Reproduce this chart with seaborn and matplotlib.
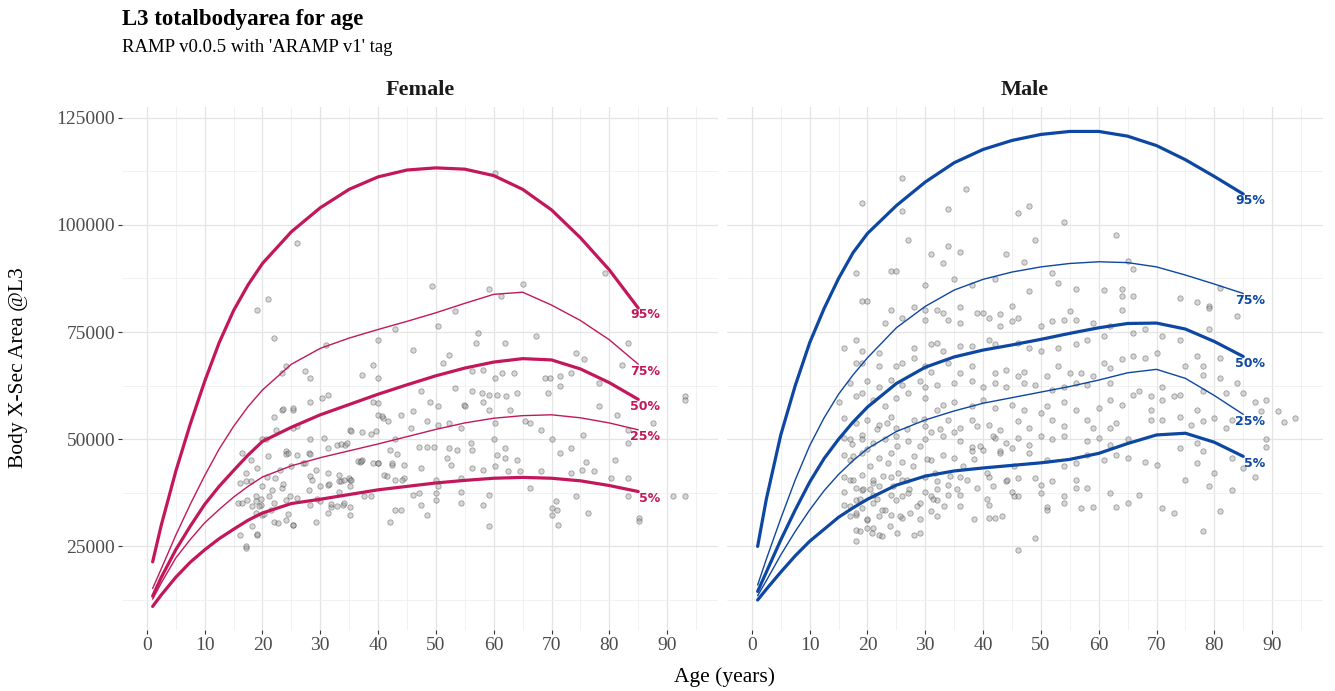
import numpy as np
import pandas as pd
import matplotlib
matplotlib.use("Agg")
import matplotlib.pyplot as plt
import seaborn as sns
from matplotlib.ticker import MultipleLocator, FuncFormatter

sns.set_theme(style="white")
plt.rcParams['font.family'] = ['Liberation Serif', 'DejaVu Serif']

# ---------------- data ----------------
CURVE_AGES = [1, 2.5, 5, 7.5, 10, 12.5, 15, 17.5, 20, 25, 30, 35, 40, 45, 50, 55, 60, 65, 70, 75, 80, 85]
PCT_LABELS = ['5%', '25%', '50%', '75%', '95%']

F_P05 = [11000, 13700, 17800, 21300, 24200, 26800, 29000, 31100, 32800, 35000, 36000, 37100, 38200, 39000, 39800, 40400, 40900, 41100, 40900, 40300, 39200, 37800]
F_P25 = [12700, 16500, 22300, 26600, 30500, 33600, 36500, 39000, 41200, 43800, 45700, 47300, 48900, 50600, 52300, 53800, 54900, 55500, 55700, 55000, 53800, 52200]
F_P50 = [13400, 17800, 24200, 29700, 34800, 39000, 42700, 46300, 49500, 52800, 55700, 58100, 60500, 62700, 64800, 66600, 68000, 68800, 68500, 66400, 63200, 59300]
F_P75 = [15200, 19800, 27600, 34800, 41500, 47700, 53000, 57600, 61500, 67500, 71200, 73600, 75600, 77500, 79500, 81700, 83800, 84300, 81300, 77700, 73200, 67500]
F_P95 = [21400, 30000, 42500, 53500, 63500, 72500, 80000, 86000, 91000, 98400, 104000, 108300, 111200, 112800, 113300, 113000, 111500, 108300, 103500, 97000, 89500, 80600]

M_P05 = [12500, 15000, 19000, 22800, 26200, 29000, 31800, 34000, 36000, 39300, 41400, 42600, 43300, 43900, 44500, 45300, 46700, 49000, 51000, 51400, 49300, 46000]
M_P25 = [13500, 17000, 23000, 28500, 33500, 38000, 41800, 45000, 47800, 51800, 54500, 56600, 58400, 59700, 61000, 62300, 63800, 65500, 66300, 64200, 60200, 55800]
M_P50 = [14500, 19000, 26500, 33500, 40000, 45500, 50000, 54000, 57500, 63000, 66800, 69200, 70800, 72000, 73300, 74700, 76000, 77000, 77100, 75700, 72800, 69300]
M_P75 = [16000, 22000, 31500, 40500, 48500, 55000, 60500, 65000, 69000, 76000, 81000, 84800, 87300, 89000, 90200, 91000, 91400, 91200, 90200, 88300, 86200, 84000]
M_P95 = [25000, 36000, 51000, 62500, 72500, 80500, 87500, 93500, 98000, 104500, 110000, 114500, 117600, 119700, 121100, 121800, 121800, 120700, 118500, 115200, 111300, 107200]

# individual observations: (age in years, area in thousands)
F_POINTS = [
    (26.0, 95.8), (60.2, 112.2), (79.3, 88.8), (19.0, 80.2), (21.0, 82.6), (49.3, 85.7), (59.2, 85.1), (61.2, 83.4), (65.1, 86.1), (53.3, 79.9),
    (22.0, 73.6), (43.0, 75.6), (50.3, 76.4), (31.0, 72.0), (40.0, 73.2), (57.2, 74.8), (57.0, 72.5), (62.0, 72.5), (67.4, 74.0), (46.0, 70.9),
    (52.3, 69.7), (51.3, 67.8), (74.3, 70.0), (75.6, 68.6), (83.2, 72.5), (82.2, 67.4), (24.0, 67.0), (23.3, 65.5), (27.3, 65.9), (28.3, 64.3),
    (37.2, 65.1), (39.1, 67.4), (40.0, 64.3), (56.2, 65.9), (58.2, 66.2), (60.2, 64.3), (61.5, 65.5), (63.5, 65.5), (68.8, 64.3), (69.7, 64.3),
    (71.4, 64.7), (73.4, 65.5), (78.3, 63.1), (71.4, 62.5), (47.4, 61.2), (53.3, 62.0), (56.2, 61.2), (58.0, 60.8), (59.2, 60.4), (60.5, 60.4),
    (62.2, 60.0), (64.1, 60.8), (69.4, 60.8), (28.3, 58.8), (30.3, 59.6), (31.3, 60.4), (39.1, 58.8), (40.0, 58.5), (49.0, 58.8), (50.3, 57.7),
    (54.9, 58.1), (58.2, 58.8), (22.0, 55.3), (23.3, 56.9), (25.3, 56.9), (40.0, 55.7), (44.0, 55.7), (46.0, 56.5), (55.0, 57.7), (59.2, 56.9),
    (62.8, 56.9), (78.3, 57.7), (81.3, 55.7), (22.4, 52.2), (25.3, 52.6), (35.2, 52.2), (37.2, 51.8), (40.8, 55.0), (45.7, 52.6), (48.4, 54.2),
    (50.3, 53.4), (52.3, 53.8), (54.3, 52.6), (60.2, 53.8), (65.5, 54.2), (66.2, 53.8), (68.1, 52.2), (75.4, 51.0), (83.2, 52.2), (87.5, 53.8),
    (93.1, 60.0), (93.1, 59.2), (20.0, 50.0), (28.3, 50.0), (31.3, 48.0), (32.9, 48.7), (34.2, 48.7), (43.0, 50.0), (47.0, 48.3), (48.4, 48.3),
    (49.7, 48.3), (52.3, 48.0), (53.6, 47.6), (56.2, 47.6), (56.0, 49.1), (60.0, 50.0), (62.0, 48.0), (60.5, 46.4), (62.0, 45.6), (64.0, 45.2),
    (70.0, 50.0), (73.4, 48.0), (71.4, 46.8), (83.2, 49.1), (16.4, 46.8), (18.1, 45.2), (21.0, 46.0), (24.0, 47.2), (26.0, 46.4), (28.0, 46.8),
    (37.2, 45.2), (39.1, 44.4), (40.0, 44.4), (42.1, 47.6), (42.4, 44.1), (44.4, 44.1), (47.4, 43.3), (52.0, 45.6), (52.6, 44.1), (56.2, 43.3),
    (58.2, 42.9), (60.2, 43.7), (62.5, 42.5), (64.5, 42.5), (68.1, 42.5), (73.4, 42.1), (75.3, 42.9), (76.0, 44.8), (77.3, 42.5), (80.3, 41.0),
    (81.0, 45.2), (83.2, 41.0), (17.1, 42.1), (19.1, 43.3), (20.7, 41.3), (23.0, 42.9), (25.0, 43.7), (27.0, 44.4), (29.3, 42.9), (31.3, 42.1),
    (33.2, 41.7), (35.2, 40.6), (33.2, 40.2), (34.9, 41.0), (36.8, 44.8), (41.1, 41.7), (43.0, 40.6), (44.4, 41.0), (50.0, 40.6), (50.3, 39.0),
    (54.3, 41.0), (16.1, 39.8), (18.1, 40.2), (20.0, 39.0), (21.7, 38.2), (23.3, 38.6), (28.0, 38.2), (30.0, 39.0), (31.3, 39.4), (33.2, 37.8),
    (35.2, 39.0), (46.0, 37.1), (47.0, 37.5), (50.0, 37.5), (54.3, 37.8), (59.2, 37.1), (66.2, 38.6), (74.3, 36.7), (70.7, 35.5), (83.2, 36.7),
    (91.1, 36.7), (93.1, 36.7), (15.8, 35.1), (17.4, 35.9), (18.8, 36.7), (19.7, 34.7), (22.0, 35.1), (24.0, 35.9), (26.0, 36.3), (28.3, 34.7),
    (30.0, 35.5), (31.9, 34.3), (33.9, 34.7), (35.2, 34.3), (43.0, 33.6), (44.0, 33.6), (47.4, 34.7), (50.0, 35.9), (54.3, 35.1), (58.2, 34.7),
    (70.0, 33.9), (71.0, 33.6), (76.3, 32.8), (85.2, 31.6), (85.2, 30.9), (18.8, 32.8), (20.0, 32.4), (22.0, 30.8), (24.0, 31.2), (25.3, 30.0),
    (29.3, 30.8), (31.3, 32.8), (35.2, 32.4), (42.1, 30.8), (48.4, 32.4), (70.0, 32.4), (71.1, 30.0), (59.2, 29.7), (16.1, 27.7), (19.1, 27.7),
    (17.1, 24.6),
    # denser young-adult cluster
    (17.1, 40.3), (18.8, 35.6), (19.7, 36.0), (18.2, 34.4), (19.4, 34.4), (16.5, 35.2), (21.2, 36.7), (21.5, 33.6), (22.1, 41.0), (23.5, 39.5),
    (24.7, 36.7), (24.4, 32.5), (25.3, 30.1), (22.6, 30.5), (20.3, 32.5), (18.2, 29.7), (19.1, 27.8), (17.1, 25.0), (24.1, 46.5), (24.4, 46.9),
    (28.2, 46.5), (28.2, 41.4), (28.5, 40.6), (27.4, 44.5), (29.4, 36.0), (31.5, 39.5), (31.8, 34.8), (33.5, 40.3), (34.1, 40.6), (35.3, 40.6),
    (34.1, 35.2), (32.9, 34.4), (36.5, 44.9), (37.1, 44.9), (40.0, 44.5), (41.5, 41.4), (42.4, 44.5), (43.2, 46.5), (44.1, 40.6), (37.6, 36.7),
    (38.8, 36.7), (20.6, 50.0), (23.5, 57.0), (25.3, 57.4), (25.9, 53.1), (30.6, 50.4), (33.5, 48.8), (34.7, 49.2), (35.3, 52.0), (38.8, 51.2),
    (39.7, 52.0), (40.6, 55.5), (41.8, 54.3),
]

M_POINTS = [
    (26, 111.0), (19, 105.0), (26, 103.2), (34, 103.8), (37, 108.4), (46, 102.7), (48, 104.5), (54, 100.6), (63, 97.6), (27, 96.4),
    (34, 95.0), (49, 96.4), (36, 93.7), (31, 93.1), (44, 93.1), (33, 91.0), (47, 91.4), (65, 91.5), (66, 89.6), (18, 88.8),
    (24, 89.2), (25, 89.2), (35, 87.3), (30, 86.0), (38, 86.0), (42, 87.3), (52, 88.8), (53, 86.5), (48, 84.5), (56, 85.1),
    (61, 84.7), (64, 85.0), (64, 83.4), (66, 83.4), (74, 83.0), (77, 82.0), (79, 81.0), (81, 85.3), (19, 82.2), (20, 82.2),
    (24, 80.1), (26, 78.3), (28, 80.9), (30, 80.1), (32, 80.1), (33, 79.5), (36, 80.9), (39, 79.5), (40, 79.5), (43, 79.1),
    (45, 81.0), (46, 78.3), (55, 80.0), (64, 80.2), (79, 80.6), (84, 78.7), (23, 77.0), (30, 77.8), (34, 77.9), (36, 77.0),
    (41, 78.3), (43, 76.4), (45, 77.5), (50, 76.4), (52, 77.5), (54, 77.9), (56, 77.9), (59, 77.1), (62, 76.4), (68, 75.6),
    (79, 75.6), (16, 71.3), (18, 73.2), (19, 70.5), (22, 70.1), (28, 71.3), (31, 72.1), (32, 72.5), (33, 70.5), (36, 71.7),
    (38, 71.7), (41, 73.2), (42, 72.1), (46, 72.5), (48, 71.3), (50, 70.5), (53, 71.3), (56, 72.1), (58, 73.2), (61, 74.0),
    (66, 74.8), (71, 74.0), (74, 73.2), (77, 69.4), (78, 67.0), (81, 69.0), (18, 67.8), (19, 67.8), (22, 67.0), (25, 67.0),
    (26, 67.8), (28, 69.0), (30, 67.0), (31, 65.8), (34, 67.8), (36, 65.5), (38, 67.0), (42, 65.5), (44, 66.2), (46, 64.7),
    (47, 65.8), (51, 64.7), (53, 67.0), (55, 65.5), (57, 65.5), (59, 64.7), (61, 67.8), (62, 66.6), (64, 68.6), (66, 69.4),
    (68, 69.0), (70, 70.1), (75, 67.0), (78, 65.0), (81, 64.3), (84, 63.1), (17, 63.1), (20, 63.5), (22, 62.3), (24, 63.9),
    (26, 62.7), (29, 63.5), (30, 62.3), (32, 62.7), (35, 63.1), (38, 63.5), (40, 62.3), (42, 63.1), (44, 62.3), (47, 63.1),
    (49, 62.7), (52, 61.6), (54, 62.3), (56, 63.1), (58, 62.7), (62, 63.1), (67, 61.2), (71, 62.3), (74, 60.4), (78, 61.2),
    (82, 60.8), (85, 60.8), (87, 58.8), (89, 59.2), (88, 56.5), (91, 56.5), (92, 54.0), (94, 55.0), (89, 50.0), (89, 48.3),
    (15, 58.8), (18, 60.0), (19, 60.8), (21, 59.2), (23, 57.7), (25, 59.6), (27, 60.8), (30, 59.6), (32, 56.9), (33, 58.0),
    (35, 58.8), (38, 57.7), (40, 59.2), (42, 57.3), (45, 58.0), (47, 56.9), (51, 57.7), (54, 58.8), (56, 56.9), (60, 57.3),
    (62, 59.2), (64, 58.0), (66, 60.4), (69, 60.0), (71, 59.2), (73, 60.0), (77, 56.9), (78, 54.2), (80, 55.0), (82, 52.6),
    (83, 54.6), (16, 55.0), (18, 53.8), (20, 54.6), (22, 53.4), (24, 55.3), (25, 52.6), (28, 54.6), (30, 53.0), (31, 51.8),
    (34, 54.6), (36, 52.6), (38, 54.6), (41, 53.4), (43, 52.2), (46, 54.2), (48, 52.6), (50, 56.1), (52, 54.6), (54, 53.0),
    (58, 54.6), (59, 52.6), (62, 52.6), (63, 53.8), (69, 56.9), (69, 54.6), (71, 54.6), (74, 55.3), (76, 53.4), (16, 50.3),
    (17, 50.0), (19, 51.1), (21, 49.1), (23, 50.0), (25, 50.7), (27, 49.5), (30, 50.0), (33, 50.7), (36, 49.5), (38, 48.3),
    (42, 50.3), (44, 49.1), (46, 50.3), (48, 48.7), (50, 50.7), (52, 50.0), (54, 50.7), (58, 49.5), (60, 50.3), (62, 48.7),
    (65, 50.0), (74, 48.0), (77, 49.1), (78, 47.2), (83, 45.6), (16, 46.4), (17, 45.2), (19, 46.8), (22, 45.6), (24, 46.8),
    (26, 44.8), (28, 46.0), (31, 45.2), (33, 46.4), (35, 45.6), (38, 47.2), (40, 47.6), (43, 47.2), (45, 48.0), (48, 46.8),
    (51, 45.2), (54, 43.7), (56, 44.4), (58, 46.4), (61, 45.2), (63, 46.4), (65, 45.6), (68, 44.8), (70, 44.1), (75, 40.6),
    (77, 44.4), (80, 42.1), (85, 43.3), (87, 41.3), (16, 41.3), (17, 40.6), (19, 41.7), (21, 39.8), (24, 41.3), (26, 40.6),
    (30, 41.3), (32, 40.2), (34, 39.4), (36, 41.3), (39, 38.6), (41, 41.3), (44, 40.2), (46, 41.0), (49, 41.0), (50, 39.4),
    (52, 40.2), (56, 40.6), (58, 38.6), (16, 37.8), (18, 38.6), (19, 38.2), (21, 37.1), (22, 39.0), (24, 37.1), (27, 37.5),
    (30, 37.8), (31, 36.7), (36, 37.1), (45, 37.8), (46, 36.7), (50, 37.5), (54, 36.7), (56, 38.6), (62, 37.5), (79, 39.0),
    (83, 38.2), (16, 34.7), (18, 35.9), (19, 33.9), (21, 35.1), (23, 33.6), (25, 35.9), (29, 35.1), (32, 35.9), (34, 37.1),
    (41, 34.7), (51, 34.3), (54, 35.1), (57, 33.9), (59, 34.3), (63, 34.3), (65, 35.1), (67, 37.1), (71, 33.9), (73, 32.8),
    (81, 33.2), (17, 32.0), (18, 32.4), (20, 31.2), (22, 32.0), (24, 32.4), (26, 31.6), (31, 33.2), (41, 31.6), (42, 31.6),
    (51, 33.6), (18, 28.9), (20, 29.3), (22, 27.7), (28, 27.7), (18, 26.2), (49, 26.9), (78, 28.5), (46, 24.2),
    # dense young-adult cluster
    (17.3, 48.8), (17.5, 46.1), (19.0, 50.0), (19.9, 47.7), (20.4, 43.8), (21.0, 40.6), (19.3, 38.3), (18.7, 36.0), (20.4, 38.3), (21.6, 36.0),
    (22.5, 33.6), (18.1, 32.8), (19.9, 31.3), (21.0, 29.3), (18.7, 28.6), (17.0, 34.4), (17.5, 40.6), (22.7, 41.4), (23.6, 44.5), (24.5, 39.1),
    (25.3, 42.2), (25.9, 36.7), (26.8, 40.6), (27.4, 32.8), (28.5, 34.4), (29.1, 31.3), (23.9, 29.7), (25.1, 28.2), (20.7, 28.2), (22.5, 27.4),
    (25.6, 32.1), (27.1, 38.3), (27.9, 43.8), (29.1, 48.4), (30.3, 45.3), (31.7, 42.2), (32.0, 38.3), (33.2, 34.4), (34.3, 41.4), (35.5, 38.3),
    (36.6, 43.8), (37.2, 40.6), (38.4, 45.3), (39.5, 48.4), (40.7, 42.2), (41.8, 39.1), (43.0, 46.9), (44.1, 40.6), (45.3, 36.7), (29.1, 28.2),
    (32.0, 32.1), (31.4, 36.0), (36.0, 34.4), (38.4, 31.3), (40.7, 36.0), (43.3, 32.1), (45.3, 43.8), (41.8, 50.8), (38.9, 53.1), (34.9, 51.6),
    (32.6, 52.3), (29.7, 54.7), (26.8, 52.3), (25.1, 48.4), (23.3, 53.9), (21.6, 52.3),
]

TITLE = "L3 totalbodyarea for age"
SUBTITLE = "RAMP v0.0.5 with 'ARAMP v1' tag"
COLORS = {'Female': '#C2185B', 'Male': '#0D47A1'}

# ---------------- build tidy frames ----------------
curve_rows = []
for sex, curves in (('Female', [F_P05, F_P25, F_P50, F_P75, F_P95]),
                    ('Male', [M_P05, M_P25, M_P50, M_P75, M_P95])):
    for lab, vals in zip(PCT_LABELS, curves):
        for a, v in zip(CURVE_AGES, vals):
            curve_rows.append({'sex': sex, 'pct': lab, 'age': a, 'area': v})
curves_df = pd.DataFrame(curve_rows)

pts_df = pd.concat([
    pd.DataFrame({'sex': 'Female', 'age': [p[0] for p in F_POINTS], 'area': [p[1] * 1000 for p in F_POINTS]}),
    pd.DataFrame({'sex': 'Male', 'age': [p[0] for p in M_POINTS], 'area': [p[1] * 1000 for p in M_POINTS]}),
], ignore_index=True)

# ---------------- figure ----------------
W, H = 1335, 691
fig = plt.figure(figsize=(W / 100, H / 100), dpi=100)
fig.patch.set_facecolor('white')


def add_ax(x0, x1, y0, y1):
    return fig.add_axes([x0 / W, 1 - y1 / H, (x1 - x0) / W, (y1 - y0) / H])


axes = {'Female': add_ax(122, 718, 107, 630), 'Male': add_ax(727, 1323, 107, 630)}
thick = {'5%': 2.3, '25%': 1.0, '50%': 2.3, '75%': 1.0, '95%': 2.3}

for sex, ax in axes.items():
    ax.set_facecolor('white')
    col = COLORS[sex]
    sns.scatterplot(data=pts_df[pts_df.sex == sex], x='age', y='area', ax=ax,
                    color='#9A9A9A', edgecolor='#2A2A2A', linewidth=0.6,
                    alpha=0.4, s=15, legend=False, zorder=2)
    for lab in PCT_LABELS:
        d = curves_df[(curves_df.sex == sex) & (curves_df.pct == lab)]
        sns.lineplot(data=d, x='age', y='area', ax=ax, color=col, lw=thick[lab],
                     estimator=None, sort=False, legend=False, zorder=3)
        ax.annotate(lab, xy=(88.8, d['area'].iloc[-1]), xytext=(0, -5),
                    textcoords='offset points', ha='right', va='center',
                    color=col, fontsize=9, fontweight='bold',
                    family='DejaVu Sans', zorder=4)
    ax.set_xlim(-4.3, 98.8)
    ax.set_ylim(5500, 127500)
    ax.xaxis.set_major_locator(MultipleLocator(10))
    ax.xaxis.set_minor_locator(MultipleLocator(5))
    ax.yaxis.set_major_locator(MultipleLocator(25000))
    ax.yaxis.set_minor_locator(MultipleLocator(12500))
    ax.yaxis.set_major_formatter(FuncFormatter(lambda v, _: f"{int(v)}"))
    ax.grid(which='major', color='#E4E4E4', lw=0.9)
    ax.grid(which='minor', color='#EFEFEF', lw=0.6)
    ax.set_axisbelow(True)
    for s in ax.spines.values():
        s.set_visible(False)
    ax.tick_params(which='major', length=3, width=0.8, color='#333333',
                   labelsize=14, labelcolor='#4D4D4D', pad=2,
                   bottom=True, left=True)
    ax.tick_params(which='minor', length=0)
    ax.set_xlabel('')
    ax.set_ylabel('')
    pos = ax.get_position()
    fig.text((pos.x0 + pos.x1) / 2, 1 - 90 / H, sex,
             ha='center', va='center', fontsize=16, fontweight='bold', color='#1A1A1A')

axes['Male'].tick_params(axis='y', left=False, labelleft=False)

fig.text(122 / W, 1 - 20 / H, TITLE, ha='left', va='center', fontsize=16.5, fontweight='bold', color='black')
fig.text(122 / W, 1 - 48 / H, SUBTITLE, ha='left', va='center', fontsize=13.5, color='black')
fig.text(19 / W, 1 - 368 / H, 'Body X-Sec Area @L3', rotation=90, ha='center', va='center', fontsize=15.5, color='black')
fig.text(725 / W, 1 - 677 / H, 'Age (years)', ha='center', va='center', fontsize=15.5, color='black')

fig.savefig('out.png', dpi=100, facecolor='white')
